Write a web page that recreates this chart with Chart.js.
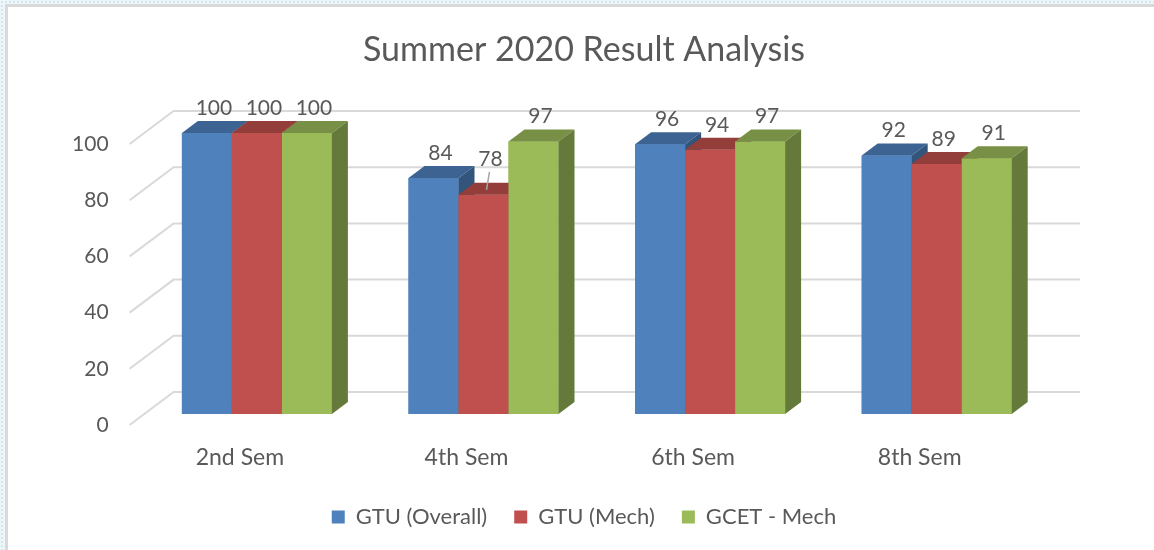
<!DOCTYPE html>
<html>
<head>
<meta charset="utf-8">
<title>Summer 2020 Result Analysis</title>
<script src="https://cdn.jsdelivr.net/npm/chart.js@4.4.0/dist/chart.umd.min.js"></script>
<style>
  html, body { margin: 0; padding: 0; width: 1154px; height: 550px; overflow: hidden; }
  body {
    background-color: #edf6f9;
    background-image: radial-gradient(#d3e6ee 1px, transparent 1px);
    background-size: 4px 4px;
  }
  #frame {
    position: absolute; left: 5px; top: 4px; width: 1160px; height: 560px;
    background: #fff; border-left: 3px solid #d9d9d9; border-top: 3px solid #d9d9d9;
  }
  #chart { position: absolute; left: 0; top: 0; }
</style>
</head>
<body>
<div id="frame"></div>
<canvas id="chart" width="1154" height="550"></canvas>
<script>
// Kategorijas un vērtības
var categories = ['2nd Sem', '4th Sem', '6th Sem', '8th Sem'];
var gtuOverall = [100, 84, 96, 92];
var gtuMech = [100, 78, 94, 89];
var gcetMech = [100, 97, 97, 91];
var yTicks = [0, 20, 40, 60, 80, 100];

var textColor = '#595959';
var fontFamily = 'Lato, "Open Sans", sans-serif';

// 3D dziļuma nobīdes (priekšējā plakne, stabiņa dziļums, aizmugurējā siena)
var FRONT = { dx: -14, dy: 11 };
var DEPTH = { dx: 16, dy: -12 };
var BACK = { dx: 30, dy: -22 };

// Aptumšo krāsu sānu un augšējai skaldnei
function shade(hex, k) {
    var n = parseInt(hex.slice(1), 16);
    var r = Math.round(((n >> 16) & 255) * k);
    var g = Math.round(((n >> 8) & 255) * k);
    var b = Math.round((n & 255) * k);
    return 'rgb(' + r + ',' + g + ',' + b + ')';
}

// Aizmugurējā siena ar režģa līnijām
var wallPlugin = {
    id: 'wall',
    beforeDatasetsDraw: function (chart) {
        var ctx = chart.ctx, y = chart.scales.y, a = chart.chartArea;
        ctx.save();
        ctx.strokeStyle = '#d9d9d9';
        ctx.lineWidth = 2;
        y.ticks.forEach(function (t) {
            var py = y.getPixelForValue(t.value);
            ctx.beginPath();
            ctx.moveTo(a.left + FRONT.dx, py + FRONT.dy);
            ctx.lineTo(a.left + BACK.dx, py + BACK.dy);
            ctx.lineTo(a.right + BACK.dx, py + BACK.dy);
            ctx.stroke();
        });
        ctx.restore();
    }
};

// Stabiņi ar 3D skaldnēm un datu etiķetēm
var bars3dPlugin = {
    id: 'bars3d',
    afterDatasetsDraw: function (chart, args, opts) {
        var ctx = chart.ctx;
        ctx.save();
        var labels = [];
        chart.data.datasets.forEach(function (ds, i) {
            var meta = chart.getDatasetMeta(i);
            meta.data.forEach(function (bar, j) {
                var p = bar.getProps(['x', 'y', 'base', 'width'], true);
                var l = p.x - p.width / 2, r = p.x + p.width / 2;
                // priekšpuse
                ctx.fillStyle = ds.backgroundColor;
                ctx.fillRect(l, p.y, r - l, p.base - p.y);
                // augšpuse
                ctx.fillStyle = shade(ds.backgroundColor, 0.77);
                ctx.beginPath();
                ctx.moveTo(l, p.y);
                ctx.lineTo(r, p.y);
                ctx.lineTo(r + DEPTH.dx, p.y + DEPTH.dy);
                ctx.lineTo(l + DEPTH.dx, p.y + DEPTH.dy);
                ctx.closePath();
                ctx.fill();
                // sāns
                ctx.fillStyle = shade(ds.backgroundColor, 0.65);
                ctx.beginPath();
                ctx.moveTo(r, p.y);
                ctx.lineTo(r + DEPTH.dx, p.y + DEPTH.dy);
                ctx.lineTo(r + DEPTH.dx, p.base + DEPTH.dy);
                ctx.lineTo(r, p.base);
                ctx.closePath();
                ctx.fill();
                labels.push({ x: p.x + 7, y: p.y - 25, top: p.y + DEPTH.dy / 2, v: ds.data[j], key: i + '-' + j });
            });
        });
        // datu etiķetes
        ctx.font = '21px ' + fontFamily;
        ctx.fillStyle = textColor;
        ctx.textAlign = 'center';
        ctx.textBaseline = 'middle';
        labels.forEach(function (lb) {
            var lift = opts.lifted[lb.key] || 0;
            if (lift) {
                ctx.strokeStyle = '#a6a6a6';
                ctx.lineWidth = 1.5;
                ctx.beginPath();
                ctx.moveTo(lb.x - 1, lb.y + lift + 13);
                ctx.lineTo(lb.x - 4, lb.top + 1);
                ctx.stroke();
            }
            ctx.fillText(lb.v, lb.x, lb.y + lift);
        });
        ctx.restore();
    }
};

Chart.defaults.font.family = fontFamily;
Chart.defaults.color = textColor;

var chart = new Chart(document.getElementById('chart'), {
    type: 'bar',
    data: {
        labels: categories,
        datasets: [
            { label: 'GTU (Overall)', data: gtuOverall, backgroundColor: '#4f81bd' },
            { label: 'GTU (Mech)', data: gtuMech, backgroundColor: '#c0504d' },
            { label: 'GCET - Mech', data: gcetMech, backgroundColor: '#9bbb59' }
        ]
    },
    options: {
        responsive: false,
        animation: false,
        devicePixelRatio: 1,
        barPercentage: 1,
        categoryPercentage: 0.662,
        layout: { padding: { left: 14, right: 0, top: 0, bottom: 12 } },
        scales: {
            x: {
                grid: { display: false },
                border: { display: false },
                ticks: { labelOffset: -17, padding: 22, font: { size: 23 }, color: textColor },
                afterFit: function (s) { s.height = 65; }
            },
            y: {
                min: 0,
                max: 100,
                afterBuildTicks: function (s) { s.ticks = yTicks.map(function (v) { return { value: v }; }); },
                grid: { display: false },
                border: { display: false },
                ticks: { labelOffset: 11, padding: 27, font: { size: 21 }, color: textColor },
                afterFit: function (s) { s.width = 129.6; }
            },
            // tukša labā ass, lai atstātu vietu sienai
            yRight: {
                type: 'linear',
                position: 'right',
                grid: { display: false },
                border: { display: false },
                ticks: { display: false },
                afterFit: function (s) { s.width = 104; }
            }
        },
        plugins: {
            title: {
                display: true,
                text: 'Summer 2020 Result Analysis',
                color: textColor,
                font: { size: 34, weight: 'normal' },
                padding: { top: 30, bottom: 62.2 }
            },
            legend: {
                position: 'bottom',
                labels: { boxWidth: 13, boxHeight: 13, padding: 27, font: { size: 22 }, color: textColor }
            },
            tooltip: { enabled: false },
            bars3d: { lifted: { '1-1': -11 } }
        }
    },
    plugins: [wallPlugin, bars3dPlugin]
});
</script>
</body>
</html>
